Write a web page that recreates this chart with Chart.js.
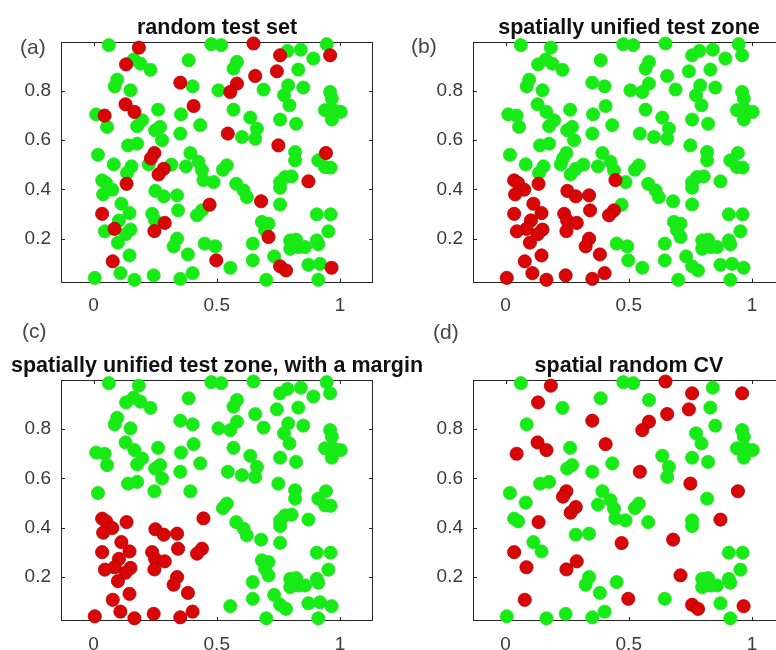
<!DOCTYPE html>
<html><head><meta charset="utf-8">
<script src="https://cdn.jsdelivr.net/npm/chart.js@4.4.1/dist/chart.umd.min.js"></script>
<style>
html,body{margin:0;padding:0;background:#fff;width:776px;height:650px;overflow:hidden;position:relative}
canvas{position:absolute;left:0;top:0}
</style></head><body>
<canvas id="pa" width="800" height="650" style="width:800px;height:650px"></canvas>
<canvas id="pb" width="800" height="650" style="width:800px;height:650px"></canvas>
<canvas id="pc" width="800" height="650" style="width:800px;height:650px"></canvas>
<canvas id="pd" width="800" height="650" style="width:800px;height:650px"></canvas>
<script>
// ---- data: sample locations (ids 1..164) ----
const X = [
0.062,0.184,0.132,0.163,0.190,0.231,0.386,0.478,0.518,0.096,
0.086,0.150,0.352,0.402,0.507,0.130,0.166,0.197,0.177,0.262,
0.355,0.406,0.011,0.045,0.055,0.433,0.545,0.250,0.270,0.278,
0.352,0.140,0.177,0.018,0.247,0.233,0.224,0.082,0.154,0.136,
0.285,0.264,0.316,0.375,0.393,0.426,0.440,0.446,0.487,0.525,
0.541,0.035,0.051,0.076,0.134,0.039,0.251,0.285,0.339,0.343,
0.471,0.440,0.420,0.113,0.146,0.035,0.238,0.250,0.289,0.247,
0.103,0.085,0.046,0.150,0.130,0.099,0.339,0.325,0.146,0.383,
0.451,0.494,0.078,0.498,0.005,0.109,0.166,0.244,0.352,0.402,
0.649,0.757,0.787,0.841,0.892,0.946,0.960,0.582,0.568,0.656,
0.744,0.831,0.582,0.555,0.690,0.790,0.773,0.795,0.851,0.960,
0.967,0.939,0.973,1.003,0.967,0.568,0.636,0.663,0.656,0.757,
0.822,0.602,0.750,0.818,0.818,0.943,0.912,0.939,0.962,0.579,
0.609,0.622,0.757,0.777,0.804,0.757,0.872,0.680,0.757,0.906,
0.962,0.683,0.710,0.696,0.710,0.953,0.646,0.798,0.822,0.798,
0.831,0.858,0.906,0.912,0.555,0.646,0.733,0.757,0.781,0.872,
0.919,0.966,0.701,0.912];
const Y = [
0.986,0.976,0.908,0.928,0.911,0.886,0.925,0.990,0.986,0.846,
0.819,0.803,0.834,0.819,0.803,0.746,0.715,0.681,0.657,0.724,
0.705,0.739,0.705,0.700,0.654,0.661,0.627,0.640,0.654,0.600,
0.627,0.579,0.586,0.541,0.548,0.526,0.502,0.502,0.494,0.467,
0.484,0.461,0.501,0.494,0.548,0.512,0.478,0.438,0.430,0.480,
0.498,0.437,0.426,0.399,0.423,0.380,0.394,0.372,0.376,0.315,
0.338,0.315,0.295,0.342,0.304,0.301,0.301,0.274,0.264,0.231,
0.274,0.240,0.230,0.237,0.218,0.184,0.200,0.169,0.132,0.136,
0.180,0.169,0.108,0.112,0.041,0.060,0.033,0.051,0.037,0.060,
0.993,0.945,0.963,0.968,0.932,0.990,0.945,0.918,0.891,0.861,
0.880,0.887,0.830,0.796,0.806,0.823,0.783,0.742,0.814,0.796,
0.769,0.722,0.722,0.715,0.684,0.724,0.692,0.647,0.606,0.684,
0.667,0.613,0.579,0.552,0.518,0.548,0.518,0.491,0.489,0.423,
0.396,0.369,0.430,0.450,0.453,0.407,0.433,0.352,0.339,0.299,
0.299,0.268,0.261,0.234,0.207,0.230,0.180,0.193,0.196,0.159,
0.166,0.166,0.193,0.177,0.082,0.112,0.128,0.088,0.071,0.094,
0.098,0.082,0.033,0.033];

// ids of test points (red) in the random test set (a) and spatial random CV (d)
const redRandom = [2,3,13,16,17,22,24,27,35,36,41,42,55,61,66,69,70,72,83,84,
  91,92,97,100,101,103,104,123,126,137,138,145,158,159,162];
// ids inside the spatially unified test zone (b, c)
const testZone = [48,52,53,54,55,56,57,58,59,60,62,63,64,65,66,67,68,69,70,71,
  72,73,74,75,76,77,78,79,80,83,85,86,87,88,89,90];
// ids removed as margin in (c)
const marginDropped = [36,37,38,39,40,41,42,43,44,46,47,49,61,81,82,84];
// ids of training points kept in (d)
const keptTrainD = [1,6,7,8,9,11,20,26,28,29,31,32,33,34,38,44,45,46,47,48,49,50,51,52,53,
  58,59,64,65,77,78,80,81,85,87,88,89,90,94,98,102,107,108,109,110,111,112,113,114,115,
  117,118,119,120,121,125,130,133,136,140,141,146,148,149,150,151,152,153,154,156,160,164];

const xTicks = [0, 0.5, 1];
const xTickLabels = ['0', '0.5', '1'];
const yTicks = [0.2, 0.4, 0.6, 0.8];
const yTickLabels = ['0.2', '0.4', '0.6', '0.8'];
const xRange = [-0.132, 1.134];
const yRange = [0.022, 0.999];

// ---- styles ----
const GREEN = 'rgb(20,236,20)', GREEN_EDGE = 'rgb(45,220,45)';
const RED = 'rgb(216,6,6)', RED_EDGE = 'rgb(178,0,0)';
const FONT = '"Liberation Sans", Arial, Helvetica, sans-serif';
const CW = 800, CH = 650, YW = 60, XH = 40;

function split(classify) {
  const g = [], r = [];
  for (let i = 0; i < X.length; i++) {
    const c = classify(i + 1);
    if (c === 'r') r.push({x: X[i], y: Y[i]});
    else if (c === 'g') g.push({x: X[i], y: Y[i]});
  }
  return {g, r};
}

function framePlugin(title, label, lx, ly) {
  return {
    id: 'frame',
    beforeDatasetsDraw(chart) {
      const {ctx, chartArea: a, scales: {x, y}} = chart;
      ctx.save();
      ctx.strokeStyle = '#262626';
      ctx.lineWidth = 1;
      ctx.strokeRect(Math.round(a.left) + 0.5, Math.round(a.top) + 0.5,
        Math.round(a.right - a.left) - 1, Math.round(a.bottom - a.top) - 1);
      ctx.beginPath();
      const tl = 4;
      xTicks.forEach(v => {
        const px = Math.round(x.getPixelForValue(v)) + 0.5;
        ctx.moveTo(px, a.bottom); ctx.lineTo(px, a.bottom - tl);
        ctx.moveTo(px, a.top); ctx.lineTo(px, a.top + tl);
      });
      yTicks.forEach(v => {
        const py = Math.round(y.getPixelForValue(v)) + 0.5;
        ctx.moveTo(a.left, py); ctx.lineTo(a.left + tl, py);
        ctx.moveTo(a.right, py); ctx.lineTo(a.right - tl, py);
      });
      ctx.stroke();
      ctx.restore();
    },
    afterDraw(chart) {
      const {ctx, chartArea: a} = chart;
      ctx.save();
      ctx.fillStyle = '#111';
      ctx.font = 'bold 21.5px ' + FONT;
      ctx.textAlign = 'center';
      ctx.textBaseline = 'alphabetic';
      ctx.fillText(title, (a.left + a.right) / 2, a.top - 8);
      ctx.fillStyle = '#454545';
      ctx.font = '21px ' + FONT;
      ctx.textAlign = 'left';
      ctx.fillText(label, lx, ly);
      ctx.restore();
    }
  };
}

function makePanel(id, title, label, lx, ly, area, pts) {
  const ds = (data, bg, bd) => ({
    data, backgroundColor: bg, borderColor: bd, borderWidth: 0.8,
    pointRadius: 6.6, pointHoverRadius: 6.6, clip: false
  });
  new Chart(document.getElementById(id), {
    type: 'scatter',
    data: {datasets: [ds(pts.r, RED, RED_EDGE), ds(pts.g, GREEN, GREEN_EDGE)]},
    options: {
      responsive: false, animation: false, devicePixelRatio: 1, events: [],
      layout: {padding: {left: area.l - YW, top: area.t, right: CW - area.r, bottom: CH - area.b - XH}},
      plugins: {legend: {display: false}, tooltip: {enabled: false}, title: {display: false}},
      scales: {
        x: {
          type: 'linear', min: xRange[0], max: xRange[1],
          grid: {display: false, drawTicks: false}, border: {display: false},
          afterFit(s) { s.height = XH; },
          afterBuildTicks(s) { s.ticks = xTicks.map(v => ({value: v})); },
          ticks: {padding: 12, color: '#3a3a3a', font: {family: FONT, size: 19},
            maxRotation: 0, autoSkip: false,
            callback: v => xTickLabels[xTicks.indexOf(v)] ?? ''}
        },
        y: {
          type: 'linear', min: yRange[0], max: yRange[1],
          grid: {display: false, drawTicks: false}, border: {display: false},
          afterFit(s) { s.width = YW; },
          afterBuildTicks(s) { s.ticks = yTicks.map(v => ({value: v})); },
          ticks: {padding: 10, color: '#3a3a3a', font: {family: FONT, size: 19},
            autoSkip: false,
            callback: v => yTickLabels[yTicks.indexOf(v)] ?? ''}
        }
      }
    },
    plugins: [framePlugin(title, label, lx, ly)]
  });
}

const ptsA = split(id => redRandom.includes(id) ? 'r' : 'g');
const ptsB = split(id => testZone.includes(id) ? 'r' : 'g');
const ptsC = split(id => marginDropped.includes(id) ? '-' : (testZone.includes(id) ? 'r' : 'g'));
const ptsD = split(id => redRandom.includes(id) ? 'r' : (keptTrainD.includes(id) ? 'g' : '-'));

makePanel('pa', 'random test set', '(a)', 20, 53.5, {l: 61, t: 42, r: 373, b: 282.5}, ptsA);
makePanel('pb', 'spatially unified test zone', '(b)', 411, 52.5, {l: 473, t: 42, r: 785, b: 282.5}, ptsB);
makePanel('pc', 'spatially unified test zone, with a margin', '(c)', 22, 337.5, {l: 61, t: 380, r: 373, b: 621}, ptsC);
makePanel('pd', 'spatial random CV', '(d)', 433, 338.5, {l: 473, t: 380, r: 785, b: 621}, ptsD);
</script>
</body></html>
